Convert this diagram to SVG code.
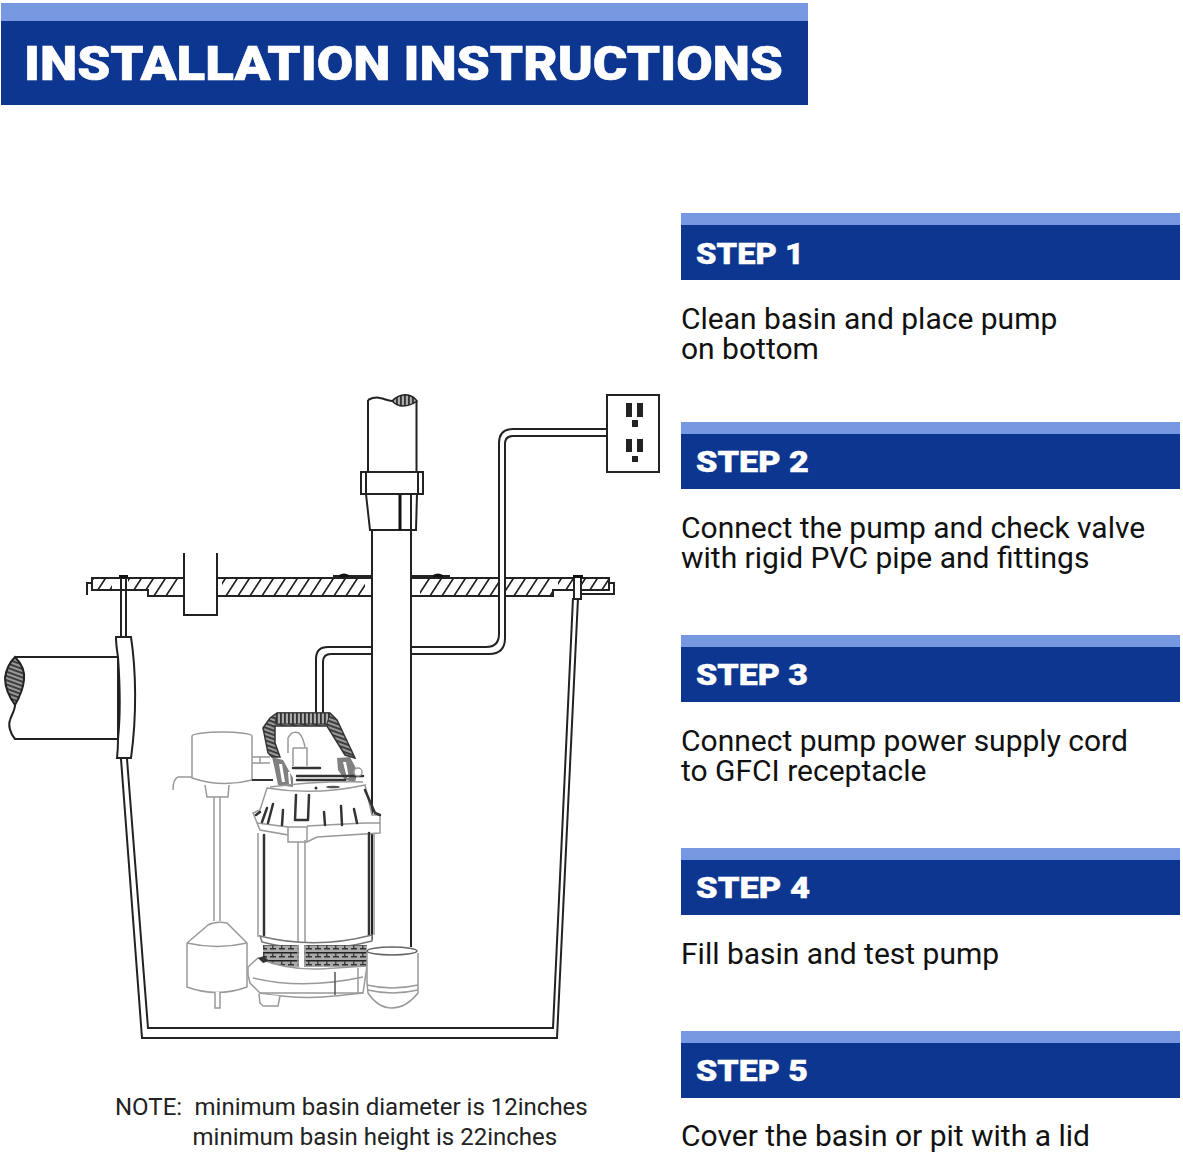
<svg xmlns="http://www.w3.org/2000/svg" width="1183" height="1155" viewBox="0 0 1183 1155">
<defs>
<pattern id="hatch" width="12" height="20" patternUnits="userSpaceOnUse" patternTransform="skewX(-33)"><rect width="2" height="20" fill="#222"/></pattern>
<pattern id="fine" width="4" height="4" patternUnits="userSpaceOnUse" patternTransform="rotate(20)"><rect width="4" height="4" fill="#999"/><rect width="4" height="1.800" fill="#333"/></pattern>
<pattern id="vfine" width="4" height="4" patternUnits="userSpaceOnUse"><rect width="4" height="4" fill="#aaa"/><rect width="1.800" height="4" fill="#333"/></pattern>
<pattern id="tex" width="9" height="8" patternUnits="userSpaceOnUse"><rect width="9" height="8" fill="#aaa"/><rect width="9" height="1.500" fill="#222"/><rect y="4" width="6" height="1.500" fill="#333"/><rect x="2" y="1" width="1.500" height="3" fill="#444"/></pattern>
</defs>
<style>
.band{fill:#0c3690}.top{fill:#7598e0}
.st{font:900 30px Roboto,sans-serif;fill:#fff;stroke:#fff;stroke-width:.4}
.b{font:400 30px Roboto,sans-serif;fill:#111}
.n{font:400 24px Roboto,sans-serif;fill:#222}
.l{fill:none;stroke:#222;stroke-width:2}
.w{fill:#fff;stroke:#222;stroke-width:2}
.g{fill:#fff;stroke:#999;stroke-width:1.500}
.gl{fill:none;stroke:#999;stroke-width:1.500}
.m{fill:none;stroke:#666;stroke-width:1.500}
.d{fill:none;stroke:#333;stroke-width:2.500;stroke-linecap:round}
</style>
<rect width="1183" height="1155" fill="#fff"/>
<g id="title"><rect x="1" y="3" width="807" height="102" class="band"/><rect x="1" y="3" width="807" height="18" class="top"/>
<text x="24" y="80" textLength="759" lengthAdjust="spacingAndGlyphs" style="font:900 48px Roboto,sans-serif;fill:#fff;stroke:#fff;stroke-width:.6">INSTALLATION INSTRUCTIONS</text></g>
<g id="step1"><rect x="681" y="213" width="499" height="67" class="band"/><rect x="681" y="213" width="499" height="12" class="top"/><text x="696" y="263.500" textLength="108" lengthAdjust="spacingAndGlyphs" class="st">STEP 1</text><text x="681" y="329" class="b">Clean basin and place pump</text><text x="681" y="359" class="b">on bottom</text></g>
<g id="step2"><rect x="681" y="422" width="499" height="67" class="band"/><rect x="681" y="422" width="499" height="12" class="top"/><text x="696" y="471.500" textLength="113" lengthAdjust="spacingAndGlyphs" class="st">STEP 2</text><text x="681" y="538" class="b">Connect the pump and check valve</text><text x="681" y="568" class="b">with rigid PVC pipe and fittings</text></g>
<g id="step3"><rect x="681" y="635" width="499" height="67" class="band"/><rect x="681" y="635" width="499" height="12" class="top"/><text x="696" y="684.500" textLength="112" lengthAdjust="spacingAndGlyphs" class="st">STEP 3</text><text x="681" y="751" class="b">Connect pump power supply cord</text><text x="681" y="781" class="b">to GFCI receptacle</text></g>
<g id="step4"><rect x="681" y="848" width="499" height="67" class="band"/><rect x="681" y="848" width="499" height="12" class="top"/><text x="696" y="897.500" textLength="114" lengthAdjust="spacingAndGlyphs" class="st">STEP 4</text><text x="681" y="964" class="b">Fill basin and test pump</text></g>
<g id="step5"><rect x="681" y="1031" width="499" height="67" class="band"/><rect x="681" y="1031" width="499" height="12" class="top"/><text x="696" y="1080.500" textLength="112" lengthAdjust="spacingAndGlyphs" class="st">STEP 5</text><text x="681" y="1146" class="b">Cover the basin or pit with a lid</text></g>
<g id="note"><text x="115" y="1115" class="n">NOTE:</text><text x="194.500" y="1115" class="n">minimum basin diameter is 12inches</text><text x="192.500" y="1145" class="n">minimum basin height is 22inches</text></g>
<g id="basin"><path class="l" d="M121 759L142 1038H557L578 598"/><path class="l" d="M127 759L148 1028H553L573 598"/></g>
<g id="slab"><path d="M92 578H609V590H553V596H148V590H92Z" fill="url(#hatch)"/>
<path fill="#fff" d="M112 579h16v10h-16zM178 579h6v16h-6zM217 579h5v16h-5zM365 579h8v16h-8zM411 579h9v16h-9zM553 580h5v9h-5z"/>
<path class="l" d="M92 578H609V590H553V596H148V590H92Z"/><path class="l" d="M92 583H87V595"/><path class="l" d="M609 583H614V594H582"/></g>
<g id="riser"><path d="M184 553V615H217V553" fill="#fff" stroke="#222" stroke-width="2"/></g>
<g id="pipe-in"><path class="w" d="M15 657H118V739H15C10 733 8 725 10 720C12 714 15 710 15 705"/><path d="M15 657C22 664 25 672 24 680C23 690 19 698 15 705C10 698 5 690 5 678C6 670 10 662 15 657Z" fill="url(#fine)" stroke="#222" stroke-width="2"/></g>
<g id="seal"><path class="w" d="M121 576V637M126 576V637"/><rect x="119" y="575" width="9" height="3" fill="#111"/><path class="w" d="M116 637H131C136 670 137 715 131 758H117C118 750 118 745 118 739C121 710 120 685 118 657C117 650 116 645 116 637Z"/></g>
<g id="discharge"><rect x="372" y="530" width="39" height="420" fill="#fff"/><path class="l" d="M372 530V940M411 530V947"/><path class="w" d="M368 400V472H416.500V400"/><path d="M366 395H419V401H404C395 404 385 396 377 398C374 398 370 399 368 400Z" fill="#fff"/><path class="l" d="M368 400C372 398 376 397 380 398C385 399 388 401 392 401"/><path d="M392 401C397 396 403 394 408 395C412 396 415 398 417 401C413 404 408 406 403 406C399 406 395 404 392 401Z" fill="url(#vfine)" stroke="#222" stroke-width="1.500"/><path class="w" d="M366 494L370 530H416L417 494Z"/><path d="M400 494V530" stroke="#111" stroke-width="3"/><path class="l" d="M411 494V530" stroke-width="1.500"/><rect x="361" y="472" width="62" height="22" class="w"/><path class="l" d="M366 472V494M418 472V494"/></g>
<g id="screws"><path d="M339 575Q344 572 349 575L349 577H339Z" fill="#111"/><path d="M433 575Q438 572 443 575L443 577H433Z" fill="#111"/><path class="l" stroke-width="1.500" d="M333 576H339M349 576H372M411 576H433M443 576H450"/><rect x="574" y="577" width="7" height="22" class="w"/><rect x="573" y="575" width="10" height="3" fill="#111"/></g>
<g id="cord"><rect x="500" y="577" width="4" height="20" fill="#fff"/><path class="l" d="M607 429H513Q499 429 499 443V634Q499 647 486 647H411M372 647H328Q316 647 316 659V715"/><path class="l" d="M607 436H513Q505 436 505 444V638Q505 654 489 654H411M372 654H331Q323 654 323 662V715"/></g>
<g id="outlet"><rect x="607" y="395" width="52" height="77" class="w"/><path fill="#222" d="M626 403h6v14h-6zM637 403h6v14h-6zM632 420h6v7h-6zM626 439h6v13h-6zM637 439h6v13h-6zM632 456h6v6h-6z"/></g>
<g id="float-switch"><ellipse cx="222" cy="736" rx="30" ry="4" class="g"/><path class="g" d="M192 736V778Q222 788 252 780V736"/><path class="gl" d="M192 777H178Q173 779 173 790M252 757H270M252 763H270M260 757V763"/><path d="M252 780H273" stroke="#333" stroke-width="2"/><path class="g" d="M205 785L207 797H228L229 785"/><path class="gl" d="M214 797V921M220 797V921"/><path class="g" d="M187 943L208 925Q215 921 227 923L247 943V987Q217 998 187 987Z"/><path class="gl" d="M187 943Q217 950 247 943"/><path class="g" d="M215 992V1008H220V992"/></g>
<g id="pump">
<path d="M272 757L268 753L263 728L270 718L277 713H330L337 720L355 758L345 755L327 726H275V743L280 757Z" fill="url(#fine)" stroke="#333" stroke-width="1.500"/>
<path d="M277 713H330L327 724H275Z" fill="url(#vfine)" stroke="#333" stroke-width="1"/>
<path class="gl" d="M288 753V738Q292 730 299 733Q303 737 305 747M293 748H307V766M293 748V766"/>
<path fill="#555" d="M272 757L283 760L293 778L293 787L278 785L275 770ZM337 758L350 757L358 772L355 782L345 780L338 770Z" opacity=".75"/>
<path fill="#fff" d="M279 764l3 18h3l-3-18zM288 772l1 12h2l-1-12zM343 762l4 16h2l-3-16z"/>
<path class="d" d="M293 768H320M297 776H363M297 780H345" stroke-width="2"/>
<circle cx="358" cy="772" r="4" class="g"/>
<path class="g" d="M267 788Q315 796 365 785L372 815H380V827L380 833L317 837L307 842H288V835L260 830L253 813L260 810Z"/>
<path class="gl" d="M270 787Q315 781 363 782M257 823L288 827V835M288 827H307V842M307 826L365 823L380 823"/>
<ellipse cx="316" cy="788" rx="1.500" ry="1.500" fill="#333"/><ellipse cx="333" cy="787" rx="7" ry="1.300" fill="#555"/>
<path class="d" d="M262 822L267 808M268 823L273 804M282 825L283 810M295 820L296 795M295 820H308M309 795L308 820M325 825L324 812M342 825L341 806M357 823L354 809M365 790L375 813L380 815M256 815L260 812"/>
<path class="gl" d="M258 833V937M305 840V967M298 842V967M374 833V935"/>
<path class="d" d="M264 835V935M369 833V935" stroke-width="2"/>
<path fill="#fff" stroke="#777" stroke-width="1.500" d="M260 936Q315 950 372 935V941Q315 956 262 942Z"/>
<path d="M263 945H367V967H263Z" fill="url(#tex)"/>
<rect x="299" y="945" width="5" height="24" fill="#fff"/><path class="gl" d="M298 945V967M305 945V967"/>
<path class="g" d="M258 958L248 967V975L250 983L260 993H363L367 966L320 969Q285 970 258 958Z"/>
<path fill="#333" d="M258 958l6-2l5 5l-6 2z"/>
<path class="gl" d="M253 978Q303 990 363 977M259 993Q300 1000 335 996L363 993"/>
<path d="M335 972V995" stroke="#555" stroke-width="1.500"/><path class="gl" d="M358 968V993"/>
<path class="g" d="M259 994L260 1003L263 1006H278L280 996"/>
<path class="g" d="M367 952V983L368 993Q378 1008 392 1008Q406 1008 418 993V953"/>
<ellipse cx="392" cy="951" rx="25" ry="4" class="g" style="stroke:#666"/>
<path class="gl" d="M367 985Q392 991 418 985M368 990Q392 996 418 990"/>
</g>
</svg>
